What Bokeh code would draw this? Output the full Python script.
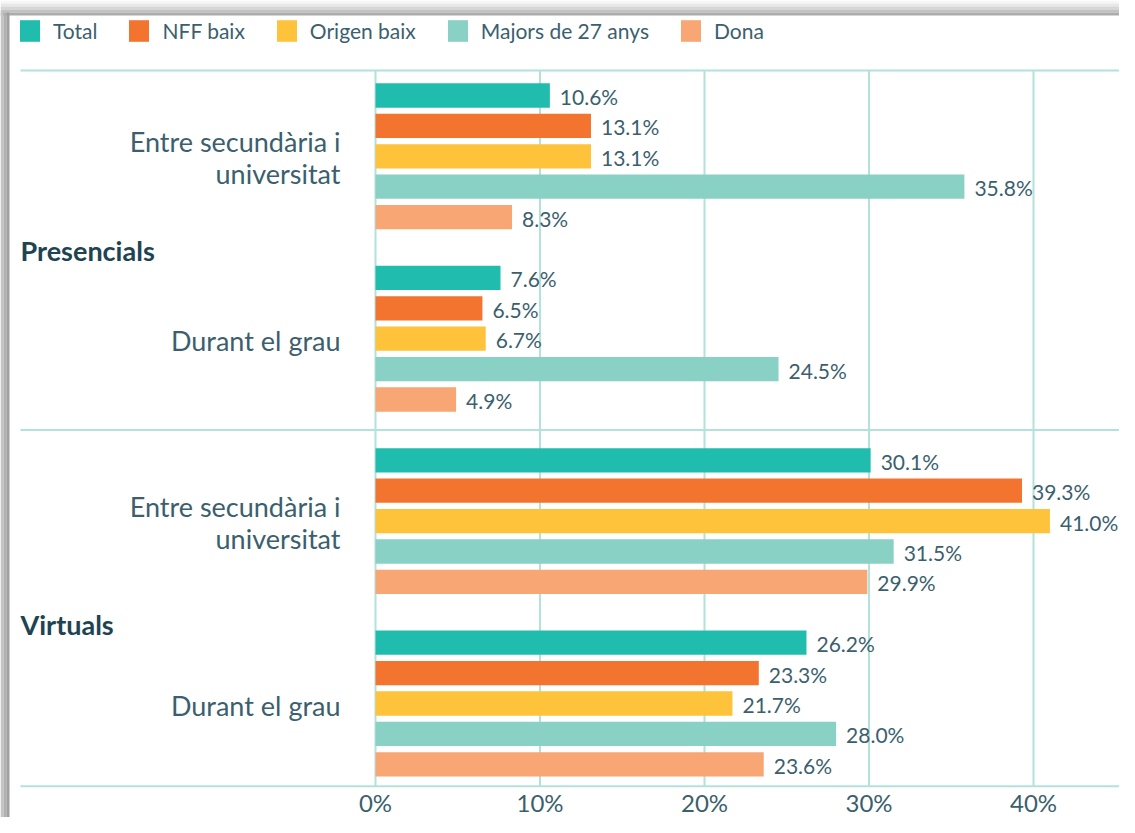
from bokeh.plotting import figure
from bokeh.models import ColumnDataSource, Range1d
from bokeh.core.properties import value
from bokeh.embed import file_html
from bokeh.resources import INLINE

# ---- data ----
groups = ["Presencials", "Virtuals"]
subgroups = ["Entre secundària i\nuniversitat", "Durant el grau"]
series = ["Total", "NFF baix", "Origen baix", "Majors de 27 anys", "Dona"]
colors = ["#20BDAE", "#F2742F", "#FEC33A", "#89D0C5", "#F7A674"]
# order: Presencials/Entre, Presencials/Durant, Virtuals/Entre, Virtuals/Durant
total = [10.6, 7.6, 30.1, 26.2]
nff_baix = [13.1, 6.5, 39.3, 23.3]
origen_baix = [13.1, 6.7, 41.0, 21.7]
majors_27 = [35.8, 24.5, 31.5, 28.0]
dona = [8.3, 4.9, 29.9, 23.6]
values = [total, nff_baix, origen_baix, majors_27, dona]
ticks = [0, 10, 20, 30, 40]

FONT = "Lato"
TEXT = "#3B5F6E"
DARK = "#1E4452"
LINE = "#B2E2DA"

W, H = 1119, 817
# layout (pixels)
X_ZERO, PX_PER_PCT = 375.0, 16.45
Y_FIRST, PX_PER_SLOT = 95.0, 30.4

def px2x(px):
    return (px - X_ZERO) / PX_PER_PCT

def py2y(py):
    return (py - Y_FIRST) / PX_PER_SLOT

SLOT = 6          # slots per subgroup block (5 bars + gap)
BAR_H = 0.8

X0, X1 = px2x(0), px2x(W)
Y_TOP, Y_BOT = py2y(0), py2y(H)
LINE_TOP, LINE_SEP, LINE_BOT = -0.82, 11.0, 22.72

p = figure(width=W, height=H, x_range=Range1d(X0, X1),
           y_range=Range1d(Y_BOT, Y_TOP),
           x_axis_location=None, y_axis_location=None,
           toolbar_location=None, output_backend="svg",
           min_border=0, outline_line_color=None)
for g in p.grid:
    g.visible = False

# card shadow (decoration)
top_shades = ["#f6f6f6", "#e8e8e8", "#d6d6d6", "#c2c2c2", "#acacac"]
for i, c in enumerate(top_shades):
    p.quad(left=px2x(0), right=X1, top=py2y(3 * i), bottom=py2y(3 * i + 3),
           fill_color=c, line_color=None)
left_shades = ["#c4c4c4", "#b0b0b0", "#a0a0a0"]
for i, c in enumerate(left_shades):
    p.quad(left=px2x(3 * i), right=px2x(3 * i + 3), top=py2y(12), bottom=Y_BOT,
           fill_color=c, line_color=None)

# vertical grid lines
p.segment(x0=ticks, x1=ticks, y0=[LINE_TOP] * len(ticks), y1=[LINE_BOT] * len(ticks),
          line_color=LINE, line_width=2)
# horizontal separators
hy = [LINE_TOP, LINE_SEP, LINE_BOT]
p.segment(x0=[px2x(20)] * 3, x1=[X1] * 3, y0=hy, y1=hy, line_color=LINE, line_width=2)

nblocks = len(groups) * len(subgroups)
for k, (name, vals, col) in enumerate(zip(series, values, colors)):
    ys = [b * SLOT + k for b in range(nblocks)]
    src = ColumnDataSource(dict(y=ys, v=vals, lab=[f"{v:.1f}%" for v in vals]))
    p.hbar(y="y", left=0, right="v", height=BAR_H, source=src,
           fill_color=col, line_color=None, legend_label=name)
    p.text(x="v", y="y", text="lab", source=src, x_offset=10, y_offset=1,
           text_baseline="middle", text_align="left",
           text_font=value(FONT), text_font_size="21px", text_color=TEXT)

# subgroup labels
sub_y, sub_t = [], []
for gi in range(len(groups)):
    for si, s in enumerate(subgroups):
        b = gi * len(subgroups) + si
        sub_y.append(b * SLOT + 2 + 0.05)
        sub_t.append(s)
p.text(x=[px2x(340)] * len(sub_y), y=sub_y, text=sub_t, text_align="right",
       text_baseline="middle", text_font=value(FONT), text_font_size="27px",
       text_color=TEXT, text_line_height=0.98)

# group labels
grp_y = [gi * len(subgroups) * SLOT + (len(subgroups) * SLOT - 2) / 2 + 0.1 + 0.3 * gi
         for gi in range(len(groups))]
p.text(x=[px2x(20)] * len(groups), y=grp_y, text=groups, text_align="left",
       text_baseline="middle", text_font=value(FONT), text_font_size="27px",
       text_font_style="bold", text_color=DARK)

# x tick labels
p.text(x=ticks, y=[py2y(802)] * len(ticks), text=[f"{t}%" for t in ticks],
       text_align="center", text_baseline="middle", text_font=value(FONT),
       text_font_size="24px", text_color=TEXT)

lg = p.legend[0]
lg.location = "top_left"
lg.orientation = "horizontal"
lg.margin = 17
lg.padding = 14
lg.spacing = 29
lg.label_standoff = 11
lg.glyph_width = 25
lg.glyph_height = 27
lg.label_text_font = FONT
lg.label_text_font_size = "21px"
lg.label_text_color = TEXT
lg.border_line_color = None
lg.background_fill_alpha = 0

open("out.html", "w").write(file_html(p, INLINE))
